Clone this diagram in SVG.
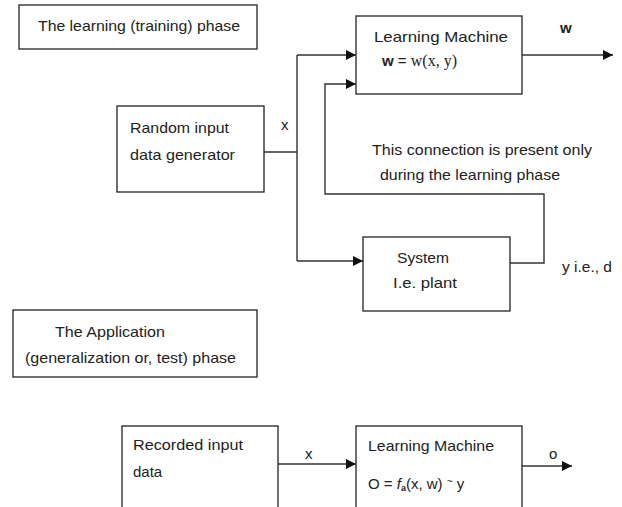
<svg xmlns="http://www.w3.org/2000/svg" width="622" height="507" viewBox="0 0 622 507">
<style>
.box{fill:#fff;stroke:#222;stroke-width:1.3}
.ln{fill:none;stroke:#333;stroke-width:1.4}
text{font-family:"Liberation Sans",Arial,sans-serif;font-size:15px;fill:#222}
.serif{font-family:"Liberation Serif","Times New Roman",serif}
</style>
<defs>
<marker id="ah" markerUnits="userSpaceOnUse" markerWidth="12" markerHeight="10" refX="10" refY="5" orient="auto">
<path d="M0,0 L10,5 L0,10 Z" fill="#111"/>
</marker>
</defs>
<rect width="622" height="507" fill="#fff"/>
<g id="connectors">
<path class="ln" d="M264,152 H297"/>
<path class="ln" d="M297,55 V261"/>
<path class="ln" d="M297,55 H356" marker-end="url(#ah)"/>
<path class="ln" d="M297,261 H363" marker-end="url(#ah)"/>
<path class="ln" d="M510,263 H544 V194 H325 V84 H356" marker-end="url(#ah)"/>
<path class="ln" d="M522,55 H613" marker-end="url(#ah)"/>
<path class="ln" d="M278,464 H356" marker-end="url(#ah)"/>
<path class="ln" d="M522,466 H572" marker-end="url(#ah)"/>
</g>
<g id="learning-phase-label">
<rect class="box" x="19" y="5" width="238" height="44"/>
<text x="38" y="31" textLength="202" lengthAdjust="spacingAndGlyphs">The learning (training) phase</text>
</g>
<g id="learning-machine">
<rect class="box" x="356" y="16" width="166" height="78"/>
<text x="374" y="42" textLength="134" lengthAdjust="spacingAndGlyphs">Learning  Machine</text>
<text x="382" y="66"><tspan font-weight="bold">w</tspan> = <tspan class="serif" font-size="16">w(x, y)</tspan></text>
</g>
<g id="random-input">
<rect class="box" x="117" y="106" width="147" height="86"/>
<text x="130" y="133" textLength="99" lengthAdjust="spacingAndGlyphs">Random input</text>
<text x="130" y="160" textLength="105" lengthAdjust="spacingAndGlyphs">data generator</text>
</g>
<g id="system">
<rect class="box" x="363" y="237" width="147" height="74"/>
<text x="397" y="263" textLength="52" lengthAdjust="spacingAndGlyphs">System</text>
<text x="393" y="288" textLength="64" lengthAdjust="spacingAndGlyphs">I.e. plant</text>
</g>
<g id="application-phase-label">
<rect class="box" x="13" y="310" width="244" height="67"/>
<text x="55" y="337" textLength="110" lengthAdjust="spacingAndGlyphs">The Application</text>
<text x="25" y="363" textLength="211" lengthAdjust="spacingAndGlyphs">(generalization or, test) phase</text>
</g>
<g id="recorded-input">
<rect class="box" x="122" y="426" width="156" height="90"/>
<text x="133" y="450" textLength="110" lengthAdjust="spacingAndGlyphs">Recorded input</text>
<text x="133" y="477">data</text>
</g>
<g id="learning-machine-2">
<rect class="box" x="356" y="426" width="166" height="90"/>
<text x="368" y="451" textLength="126" lengthAdjust="spacingAndGlyphs">Learning Machine</text>
<text x="368" y="489">O = <tspan font-style="italic">f</tspan><tspan font-size="9" font-weight="bold" dy="2">a</tspan><tspan dy="-2">(x, w)  </tspan><tspan font-size="10" dy="-4">~</tspan><tspan dy="4"> y</tspan></text>
</g>
<g id="labels">
<text x="560" y="33" font-weight="bold">w</text>
<text x="281" y="130">x</text>
<text x="372" y="155" textLength="220" lengthAdjust="spacingAndGlyphs">This connection is present only</text>
<text x="380" y="180" textLength="180" lengthAdjust="spacingAndGlyphs">during the learning phase</text>
<text x="562" y="272" textLength="50" lengthAdjust="spacingAndGlyphs">y i.e., d</text>
<text x="305" y="459">x</text>
<text x="549" y="459">o</text>
</g>
</svg>
